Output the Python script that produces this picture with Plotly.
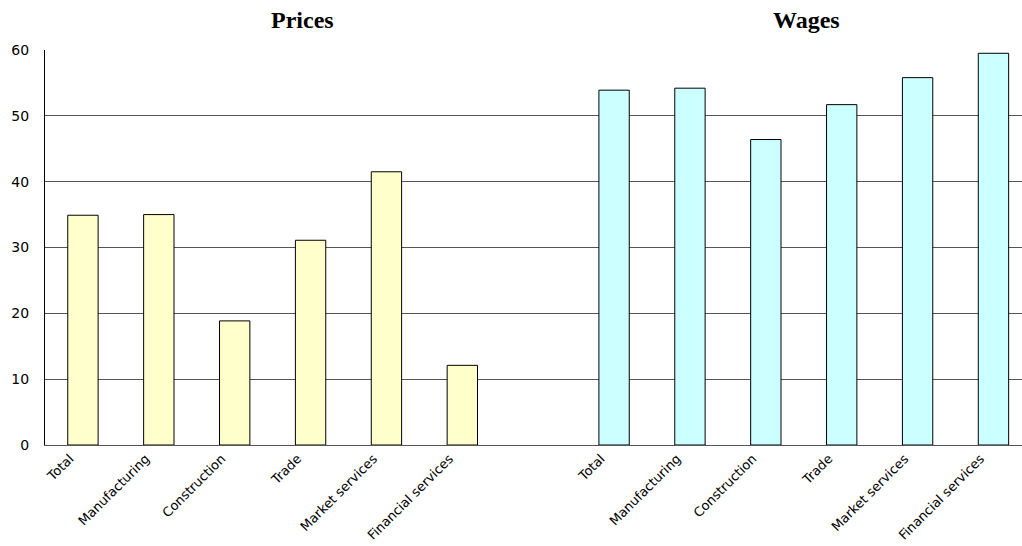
import plotly.graph_objects as go

categories = ["Total", "Manufacturing", "Construction", "Trade", "Market services", "Financial services"]
prices = [34.9, 35.0, 18.85, 31.1, 41.5, 12.1]
wages = [53.9, 54.2, 46.4, 51.7, 55.8, 59.5]
y_ticks = [0, 10, 20, 30, 40, 50, 60]

x_prices = list(range(len(categories)))
x_wages = [i + len(categories) + 1 for i in range(len(categories))]

fig = go.Figure()
fig.add_trace(go.Bar(x=x_prices, y=prices, width=0.4, name="Prices",
                     marker=dict(color="#FFFFCC", line=dict(color="black", width=1))))
fig.add_trace(go.Bar(x=x_wages, y=wages, width=0.4, name="Wages",
                     marker=dict(color="#CCFFFF", line=dict(color="black", width=1))))

title_font = dict(family="Liberation Serif, Times New Roman, serif", size=24, color="black")

fig.update_layout(
    width=1022, height=546,
    margin=dict(l=45, r=0, t=50, b=101, pad=0),
    paper_bgcolor="white", plot_bgcolor="white",
    showlegend=False,
    font=dict(family="DejaVu Sans, Arial", size=14, color="black"),
    xaxis=dict(
        range=[-0.5, 12.376],
        tickvals=x_prices + x_wages,
        ticktext=categories + categories,
        tickangle=-45,
        automargin=False,
        showgrid=False,
        showline=True, linecolor="#555555", linewidth=1,
        ticks="",
        ticklabelshift=-13,
        ticklabelstandoff=0,
        tickfont=dict(size=13),
        zeroline=False,
    ),
    yaxis=dict(
        range=[0, 60],
        tickvals=y_ticks,
        automargin=False,
        showgrid=True, gridcolor="#555555", gridwidth=1,
        showline=True, linecolor="black", linewidth=1,
        ticks="",
        ticklabelstandoff=12,
        tickfont=dict(size=14),
        zeroline=False,
    ),
    annotations=[
        dict(text="<b>Prices</b>", x=2.89, y=1.0, xref="x", yref="paper",
             yanchor="middle", yshift=30, showarrow=False, font=title_font),
        dict(text="<b>Wages</b>", x=9.54, y=1.0, xref="x", yref="paper",
             yanchor="middle", yshift=30, showarrow=False, font=title_font),
    ],
)

fig.write_html(
    "out.html",
    config={"displayModeBar": False},
    post_script="document.body.style.margin='0';document.body.style.overflow='hidden';",
)
